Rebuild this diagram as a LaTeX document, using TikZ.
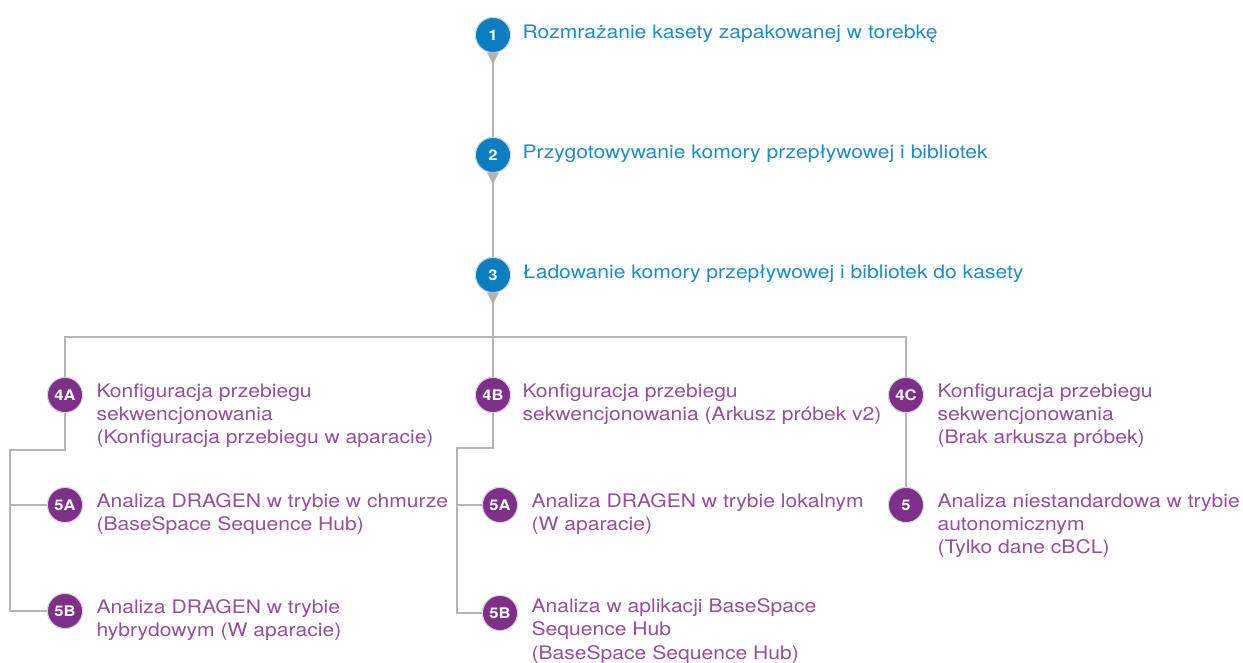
\documentclass[tikz,border=0pt]{standalone}
\usepackage{fontspec}
\setmainfont{TeX Gyre Heros}[FakeStretch=1.13]
\usetikzlibrary{calc,positioning}

\definecolor{stepblue}{HTML}{0B7EC2}
\definecolor{textblue}{HTML}{1E8CC8}
\definecolor{steppurple}{HTML}{7E2F88}
\definecolor{textpurple}{HTML}{94509A}
\definecolor{linegray}{HTML}{B5B5B5}

\tikzset{
	dot/.style={circle, minimum size=26.5pt, inner sep=0, draw=black!16, line width=0.9pt,
		text=white, font=\fontsize{11pt}{12pt}\selectfont\bfseries},
	bluedot/.style={dot, fill=stepblue},
	purpledot/.style={dot, fill=steppurple},
	bluetext/.style={anchor=north west, inner sep=0, text=textblue, align=left,
		font=\fontsize{14pt}{17.5pt}\selectfont, execute at begin node=\rule{0pt}{11pt}},
	purpletext/.style={bluetext, text=textpurple},
	link/.style={draw=linegray, line width=1.5pt}
}

\begin{document}
\begin{tikzpicture}[x=0.75pt,y=-0.75pt]
	\useasboundingbox (0,0) rectangle (1243,662);
	\coordinate (hb) at (0,337);
	\coordinate (la) at (10,450);
	\coordinate (lb) at (457,448);

	% steps 1-3
	\node[bluedot] (s1) at (493,35) {1};
	\node[bluedot] (s2) at (493,155) {2};
	\node[bluedot] (s3) at (493,275) {3};
	% steps 4
	\node[purpledot] (s4a) at (65,395) {4A};
	\node[purpledot] (s4b) at (493,395) {4B};
	\node[purpledot] (s4c) at (906,395) {4C};
	% steps 5
	\node[purpledot] (l5a) at (65,505) {5A};
	\node[purpledot] (l5b) at (65,611) {5B};
	\node[purpledot] (m5a) at (500,505) {5A};
	\node[purpledot] (m5b) at (500,613) {5B};
	\node[purpledot] (r5) at (906,505) {5};

	% gray links
	\begin{scope}[on background layer/.style={}]
	\draw[link] (s1) -- (s2);
	\draw[link] (s2) -- (s3);
	\draw[link] (s3) -- (s4b);
	\draw[link] (s4a.north) -- (s4a|-hb) -- (s4c|-hb) -- (s4c.north);
	\draw[link] (s4a.south) -- (s4a|-la) -- (la) -- (la|-l5b) -- (l5b.west);
	\draw[link] (la|-l5a) -- (l5a.west);
	\draw[link] (s4b.south) -- (s4b|-lb) -- (lb) -- (lb|-m5b) -- (m5b.west);
	\draw[link] (lb|-m5a) -- (m5a.west);
	\draw[link] (s4c) -- (r5);
	\end{scope}

	% pointers under the blue steps
	\foreach \s in {s1,s2,s3}
		\fill[linegray] ($(\s.south)+(-6,-1)$) -- ($(\s.south)+(6,-1)$) -- ($(\s.south)+(0,11)$) -- cycle;

	% labels
	\node[bluetext] (t1) at ($(s1.east)+(11,-11.7)$) {Rozmrażanie kasety zapakowanej w torebkę};
	\node[bluetext] (t2) at ($(s2.east)+(11,-11.7)$) {Przygotowywanie komory przepływowej i bibliotek};
	\node[bluetext] (t3) at ($(s3.east)+(11,-11.7)$) {Ładowanie komory przepływowej i bibliotek do kasety};

	\node[purpletext] (t4a) at ($(s4a.east)+(13,-11.7)$) {Konfiguracja przebiegu\\sekwencjonowania\\(Konfiguracja przebiegu w aparacie)};
	\node[purpletext] (t4b) at ($(s4b.east)+(11,-11.7)$) {Konfiguracja przebiegu\\sekwencjonowania (Arkusz próbek v2)};
	\node[purpletext] (t4c) at ($(s4c.east)+(13,-11.7)$) {Konfiguracja przebiegu\\sekwencjonowania\\(Brak arkusza próbek)};

	\node[purpletext] (tl5a) at ($(l5a.east)+(13,-11.7)$) {Analiza DRAGEN w trybie w chmurze\\(BaseSpace Sequence Hub)};
	\node[purpletext] (tl5b) at ($(l5b.east)+(13,-11.7)$) {Analiza DRAGEN w trybie\\hybrydowym (W aparacie)};
	\node[purpletext] (tm5a) at ($(m5a.east)+(13,-11.7)$) {Analiza DRAGEN w trybie lokalnym\\(W aparacie)};
	\node[purpletext] (tm5b) at ($(m5b.east)+(13,-14.7)$) {Analiza w aplikacji BaseSpace\\Sequence Hub\\(BaseSpace Sequence Hub)};
	\node[purpletext] (tr5) at ($(r5.east)+(13,-11.7)$) {Analiza niestandardowa w trybie\\autonomicznym\\(Tylko dane cBCL)};
\end{tikzpicture}
\end{document}
